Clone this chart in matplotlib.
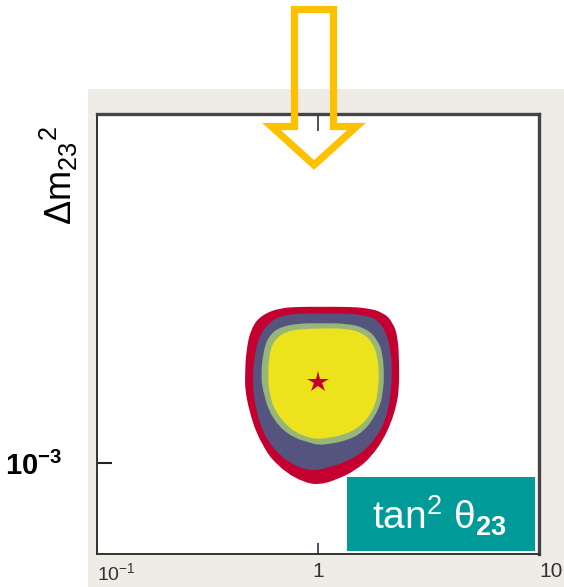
import numpy as np
import matplotlib
matplotlib.use("Agg")
import matplotlib.pyplot as plt
from matplotlib.path import Path
from matplotlib.patches import PathPatch, Rectangle, Polygon
from matplotlib.ticker import NullLocator

plt.rcParams['font.family'] = ['Liberation Sans', 'DejaVu Sans']
plt.rcParams['mathtext.fontset'] = 'custom'
plt.rcParams['mathtext.rm'] = 'Liberation Sans'
plt.rcParams['mathtext.it'] = 'Liberation Sans:italic'
plt.rcParams['mathtext.bf'] = 'Liberation Sans:bold'

# allowed regions: log10(tan^2 theta23), log10(dm^2 / eV^2)
# (clockwise from the top centre)
red_lx = [0, 0.127, 0.217, 0.294, 0.339, 0.362, 0.367, 0.367, 0.353, 0.330, 0.294, 0.240,
          0.172, 0.081, 0, -0.068, -0.145, -0.222, -0.281, -0.312, -0.330, -0.330, -0.326,
          -0.303, -0.258, -0.176, -0.077]
red_ly = [-2.290, -2.290, -2.295, -2.315, -2.361, -2.433, -2.542, -2.669, -2.746, -2.819, -2.896, -2.973,
          -3.032, -3.077, -3.100, -3.086, -3.045, -2.973, -2.864, -2.760, -2.669, -2.601, -2.497,
          -2.388, -2.329, -2.295, -2.290]

navy_lx = [0, 0.127, 0.217, 0.271, 0.308, 0.330, 0.335, 0.330, 0.321, 0.299, 0.262, 0.204,
           0.127, 0.036, 0, -0.054, -0.131, -0.199, -0.249, -0.281, -0.294, -0.294, -0.290,
           -0.271, -0.226, -0.167, -0.077]
navy_ly = [-2.320, -2.320, -2.329, -2.351, -2.406, -2.497, -2.587, -2.669, -2.746, -2.819, -2.887, -2.950,
           -2.995, -3.023, -3.032, -3.032, -3.000, -2.941, -2.864, -2.760, -2.669, -2.587, -2.542,
           -2.433, -2.365, -2.329, -2.320]

green_lx = [0, 0.127, 0.217, 0.271, 0.294, 0.299, 0.294, 0.285, 0.253, 0.204, 0.136, 0.050,
            0, -0.032, -0.109, -0.176, -0.226, -0.249, -0.258, -0.249, -0.222, -0.167, -0.077]
green_ly = [-2.365, -2.365, -2.388, -2.442, -2.510, -2.615, -2.669, -2.728, -2.796, -2.859, -2.896, -2.914,
            -2.918, -2.909, -2.887, -2.837, -2.760, -2.669, -2.615, -2.497, -2.420, -2.379, -2.365]

yellow_lx = [0, 0.127, 0.204, 0.249, 0.271, 0.276, 0.271, 0.262, 0.231, 0.181, 0.113, 0.036,
             0, -0.032, -0.100, -0.158, -0.204, -0.222, -0.226, -0.222, -0.199, -0.145, -0.077]
yellow_ly = [-2.388, -2.388, -2.410, -2.456, -2.524, -2.615, -2.669, -2.728, -2.791, -2.841, -2.873, -2.887,
             -2.891, -2.887, -2.864, -2.814, -2.746, -2.669, -2.615, -2.510, -2.442, -2.401, -2.392]

best_fit = (1.0, 2.33e-3)

region_colors = ['#C3002F', '#55547F', '#98B677', '#ECE31C']

xticks = [0.1, 1, 10]
xticklabels = [r'$\mathregular{10^{-1}}$', '1', '10']
yticks = [1e-3]
yticklabels = [r'$\mathbf{10^{-3}}$']


def smooth_patch(lx, ly, color):
    # closed quadratic bezier through the midpoints of the read-off points
    p = np.column_stack([np.power(10.0, lx), np.power(10.0, ly)])
    n = len(p)
    verts, codes = [], []
    mid = lambda i: (p[i % n] + p[(i + 1) % n]) / 2
    verts.append(mid(0)); codes.append(Path.MOVETO)
    for i in range(1, n + 1):
        verts.append(p[i % n]); codes.append(Path.CURVE3)
        verts.append(mid(i)); codes.append(Path.CURVE3)
    verts.append(mid(0)); codes.append(Path.CLOSEPOLY)
    return PathPatch(Path(verts, codes), facecolor=color, edgecolor='none')


W, H = 564, 587
fig = plt.figure(figsize=(W / 100, H / 100), dpi=100)
fig.patch.set_facecolor('white')
px = lambda x, y: (x / W, 1 - y / H)

# light grey panel behind the plot
fig.patches.append(Rectangle(px(88, H), 1 - 88 / W, (H - 89) / H, transform=fig.transFigure,
                             facecolor='#EFECE8', edgecolor='none', zorder=-1))

ax = fig.add_axes([97 / W, (H - 554) / H, 442 / W, 440 / H])
ax.set_xscale('log')
ax.set_yscale('log')
ax.set_xlim(0.1, 10)
ax.set_ylim(10 ** -3.4136, 10 ** -1.4136)

for (lx, ly), c in zip([(red_lx, red_ly), (navy_lx, navy_ly), (green_lx, green_ly),
                        (yellow_lx, yellow_ly)], region_colors):
    ax.add_patch(smooth_patch(lx, ly, c))
ax.plot(*best_fit, marker='*', color='#C3002F', markersize=16, markeredgewidth=0)

ax.set_xticks(xticks, labels=xticklabels)
ax.set_yticks(yticks, labels=yticklabels)
ax.xaxis.set_minor_locator(NullLocator())
ax.yaxis.set_minor_locator(NullLocator())
ax.tick_params(axis='x', direction='in', length=8, width=1.2, color='#333333', top=True,
               labelsize=15, labelcolor='#333333', pad=6)
ax.tick_params(axis='y', direction='in', length=11, width=1.5, color='#222222',
               labelsize=21, labelcolor='black', pad=25)
for t in ax.xaxis.get_major_ticks():
    t.tick2line.set_markersize(12)
ax.get_xticklabels()[0].set_ha('left')
ax.get_xticklabels()[0].set_x(0.095)
ax.get_xticklabels()[0].set_fontsize(14)
ax.get_xticklabels()[2].set_ha('left')

for s in ['left', 'bottom']:
    ax.spines[s].set_linewidth(1.4)
    ax.spines[s].set_color('#333333')
for s in ['top', 'right']:
    ax.spines[s].set_linewidth(2.4)
    ax.spines[s].set_color('#444444')

fig.text(*px(59, 176), r'$\mathregular{\Delta m_{23}{}^{2}}$', rotation=90,
         ha='center', va='center', fontsize=26, color='black')

# teal label box
fig.patches.append(Rectangle(px(347, 551), (535 - 347) / W, (551 - 477) / H,
                             transform=fig.transFigure, facecolor='#009A98',
                             edgecolor='none', zorder=3))
fig.text(*px(439, 530), r'$\mathregular{tan^{2}\ \theta_{\mathbf{23}}}$', ha='center',
         va='baseline', fontsize=28, color='white', zorder=4)

# downward arrow outline
arrow = [px(294.5, 9.5), px(333.5, 9.5), px(333.5, 126.5), px(356.5, 126.5),
         px(314, 165), px(271.5, 126.5), px(294.5, 126.5)]
fig.patches.append(Polygon(arrow, closed=True, transform=fig.transFigure, fill=False,
                           edgecolor='#FFC000', linewidth=5.2, joinstyle='miter', zorder=5))

fig.savefig('out.png', dpi=100)
